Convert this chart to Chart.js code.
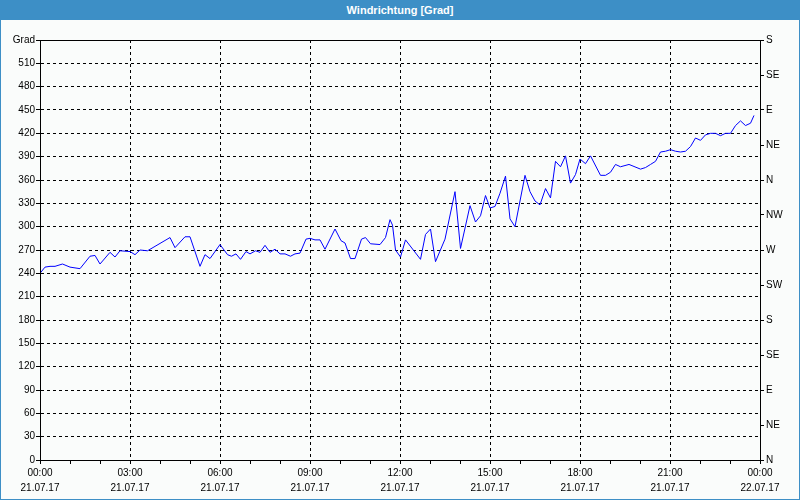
<!DOCTYPE html>
<html>
<head>
<meta charset="utf-8">
<script src="https://cdn.jsdelivr.net/npm/chart.js@4/dist/chart.umd.min.js"></script>
<style>
  html, body { margin: 0; padding: 0; background: #fafcfb; }
  #frame { position: absolute; left: 0; top: 0; width: 800px; height: 500px; box-sizing: border-box; border: 1px solid #3d8fc6; }
  #title { position: absolute; left: 0; top: 0; width: 800px; height: 20px; background: #3d8fc6; color: #fff;
           font: bold 11px "Liberation Sans", Arial, sans-serif; text-align: center; line-height: 20px; }
  #wrap { position: absolute; left: 0; top: 20px; width: 800px; height: 480px; }
</style>
</head>
<body>
<div id="frame"></div>
<div id="title">Windrichtung [Grad]</div>
<div id="wrap"><canvas id="c"></canvas></div>
<script>
// minutes since 21.07.17 00:00
const minutes = [0,10,20,30,45,60,80,100,110,120,140,150,160,180,190,200,215,260,270,290,300,320,330,340,360,375,383,392,401,412,420,431,440,450,460,470,480,490,501,510,520,532,540,550,560,570,590,602,610,621,630,643,651,661,680,691,700,705,711,721,731,761,771,781,791,810,830,841,860,871,881,891,900,910,920,931,940,950,970,980,990,1000,1011,1021,1031,1041,1051,1061,1071,1080,1091,1101,1121,1131,1141,1151,1161,1178,1201,1211,1221,1231,1241,1251,1261,1271,1281,1291,1301,1311,1321,1331,1341,1351,1361,1371,1381,1391,1401,1411,1421,1428];
const windDir = [240,248,249,249,252,248,246,262,263,252,267,261,269,268,264,270,269,286,273,287,287,249,264,259,277,264,262,265,258,268,265,269,267,276,267,271,265,265,262,265,266,284,285,283,283,271,297,282,279,259,259,284,286,278,277,286,309,302,270,261,283,258,290,297,255,284,345,272,327,306,314,340,324,326,343,365,310,300,366,345,333,328,349,337,384,377,391,356,367,387,381,391,366,366,370,380,377,380,374,376,380,384,396,397,399,397,396,397,403,414,411,418,420,420,417,420,420,430,436,430,433,443];
const timeLabels = ['00:00','03:00','06:00','09:00','12:00','15:00','18:00','21:00','00:00'];
const dateLabels = ['21.07.17','21.07.17','21.07.17','21.07.17','21.07.17','21.07.17','21.07.17','21.07.17','22.07.17'];
const compassLabels = ['N','NE','E','SE','S','SW','W','NW','N','NE','E','SE','S'];
const axisTitle = 'Grad';

const FONT = { family: '"Liberation Sans", Arial, sans-serif', size: 10 };

const boxPlugin = {
  id: 'box',
  afterDraw(chart) {
    const a = chart.chartArea, ctx = chart.ctx;
    ctx.save();
    ctx.strokeStyle = '#000';
    ctx.lineWidth = 1;
    ctx.setLineDash([]);
    ctx.strokeRect(Math.round(a.left) + 0.5, Math.round(a.top) + 0.5, Math.round(a.right - a.left), Math.round(a.bottom - a.top));
    ctx.restore();
  }
};

new Chart(document.getElementById('c'), {
  type: 'line',
  data: {
    datasets: [{
      data: minutes.map((m, i) => ({ x: m, y: windDir[i] })),
      borderColor: '#0000ff',
      borderWidth: 1,
      pointRadius: 0,
      tension: 0,
      fill: false
    }]
  },
  options: {
    responsive: true,
    maintainAspectRatio: false,
    animation: false,
    layout: { padding: { top: 20, left: 0, right: 0, bottom: 0 } },
    plugins: { legend: { display: false }, tooltip: { enabled: false } },
    scales: {
      x: {
        type: 'linear', min: 0, max: 1440,
        afterFit(s) { s.height = 40; },
        border: { display: true, color: '#000', width: 1 },
        grid: {
          color: c => (c.tick && c.tick.value % 180 === 0) ? '#000' : 'rgba(0,0,0,0)',
          tickColor: '#000', tickLength: 4, lineWidth: 1, drawOnChartArea: true
        },
        border: { dash: [3, 3], color: '#000' },
        ticks: {
          stepSize: 60, autoSkip: false, maxRotation: 0, minRotation: 0,
          color: '#000', font: { ...FONT, lineHeight: 1.5 }, padding: 2,
          callback: v => (v % 180 === 0) ? [timeLabels[v / 180], dateLabels[v / 180]] : ''
        }
      },
      y: {
        position: 'left', min: 0, max: 540,
        afterFit(s) { s.width = 40; },
        border: { dash: [3, 3], color: '#000' },
        grid: { color: '#000', tickColor: '#000', tickLength: 4, lineWidth: 1 },
        ticks: {
          stepSize: 30, color: '#000', font: FONT, padding: 1,
          callback: v => v === 540 ? axisTitle : v
        }
      },
      y2: {
        position: 'right', min: 0, max: 540,
        afterFit(s) { s.width = 40; },
        border: { color: '#000' },
        grid: { drawOnChartArea: false, color: '#000', tickColor: '#000', tickLength: 4 },
        ticks: {
          stepSize: 45, color: '#000', font: FONT, padding: 2,
          callback: v => compassLabels[v / 45]
        }
      }
    }
  },
  plugins: [boxPlugin]
});
</script>
</body>
</html>
